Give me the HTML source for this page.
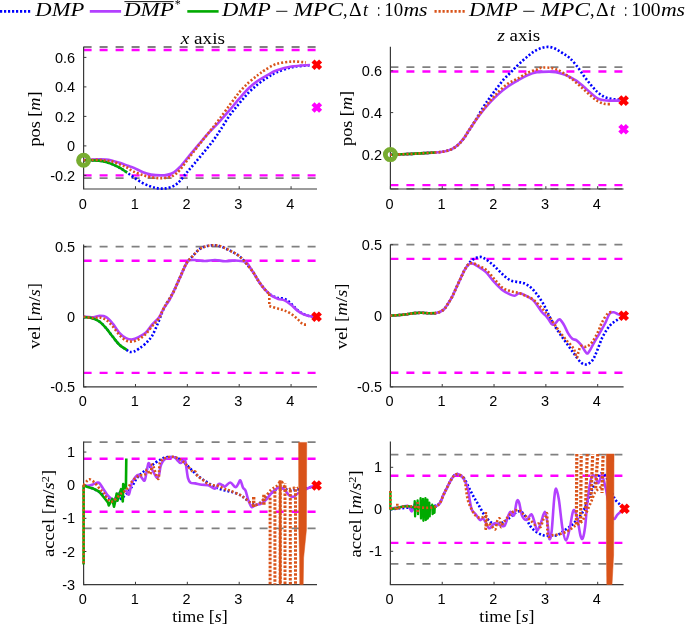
<!DOCTYPE html>
<html><head><meta charset="utf-8"><style>
html,body{margin:0;padding:0;background:#fff;width:685px;height:627px;overflow:hidden}
svg{display:block;will-change:transform}
.tk{font-family:"Liberation Sans",sans-serif;font-size:14.5px;fill:#000}
.lb{font-family:"Liberation Serif",serif;font-size:16.6px;fill:#000}
.lg{font-family:"Liberation Serif",serif;font-size:18px;fill:#000;font-style:italic}
</style></head><body>
<svg width="685" height="627" viewBox="0 0 685 627">
<rect width="685" height="627" fill="#fff"/>
<line x1="83.6" y1="47" x2="317" y2="47" stroke="#808080" stroke-width="1.8" stroke-dasharray="8 8"/>
<line x1="83.6" y1="178.2" x2="317" y2="178.2" stroke="#808080" stroke-width="1.8" stroke-dasharray="8 8"/>
<line x1="83.6" y1="50.03" x2="317" y2="50.03" stroke="#FF00FF" stroke-width="2.4" stroke-dasharray="8 8"/>
<line x1="83.6" y1="175.4" x2="317" y2="175.4" stroke="#FF00FF" stroke-width="2.4" stroke-dasharray="8 8"/>
<line x1="390.4" y1="67.14" x2="623.6" y2="67.14" stroke="#808080" stroke-width="1.8" stroke-dasharray="8 8"/>
<line x1="390.4" y1="188.88" x2="623.6" y2="188.88" stroke="#808080" stroke-width="1.8" stroke-dasharray="8 8"/>
<line x1="390.4" y1="71.43" x2="623.6" y2="71.43" stroke="#FF00FF" stroke-width="2.4" stroke-dasharray="8 8"/>
<line x1="390.4" y1="185.12" x2="623.6" y2="185.12" stroke="#FF00FF" stroke-width="2.4" stroke-dasharray="8 8"/>
<line x1="83.6" y1="246.7" x2="317" y2="246.7" stroke="#808080" stroke-width="1.8" stroke-dasharray="8 8"/>
<line x1="83.6" y1="260.72" x2="317" y2="260.72" stroke="#FF00FF" stroke-width="2.4" stroke-dasharray="8 8"/>
<line x1="83.6" y1="372.88" x2="317" y2="372.88" stroke="#FF00FF" stroke-width="2.4" stroke-dasharray="8 8"/>
<line x1="390.4" y1="244.7" x2="623.6" y2="244.7" stroke="#808080" stroke-width="1.8" stroke-dasharray="8 8"/>
<line x1="390.4" y1="258.92" x2="623.6" y2="258.92" stroke="#FF00FF" stroke-width="2.4" stroke-dasharray="8 8"/>
<line x1="390.4" y1="372.68" x2="623.6" y2="372.68" stroke="#FF00FF" stroke-width="2.4" stroke-dasharray="8 8"/>
<line x1="83.6" y1="442.11" x2="317" y2="442.11" stroke="#808080" stroke-width="1.8" stroke-dasharray="8 8"/>
<line x1="83.6" y1="528.29" x2="317" y2="528.29" stroke="#808080" stroke-width="1.8" stroke-dasharray="8 8"/>
<line x1="83.6" y1="458.68" x2="317" y2="458.68" stroke="#FF00FF" stroke-width="2.4" stroke-dasharray="8 8"/>
<line x1="83.6" y1="511.72" x2="317" y2="511.72" stroke="#FF00FF" stroke-width="2.4" stroke-dasharray="8 8"/>
<line x1="390.4" y1="454.7" x2="623.6" y2="454.7" stroke="#808080" stroke-width="1.8" stroke-dasharray="8 8"/>
<line x1="390.4" y1="563.9" x2="623.6" y2="563.9" stroke="#808080" stroke-width="1.8" stroke-dasharray="8 8"/>
<line x1="390.4" y1="475.7" x2="623.6" y2="475.7" stroke="#FF00FF" stroke-width="2.4" stroke-dasharray="8 8"/>
<line x1="390.4" y1="542.9" x2="623.6" y2="542.9" stroke="#FF00FF" stroke-width="2.4" stroke-dasharray="8 8"/>
<path d="M83.6,46.7 V189 H317" fill="none" stroke="#3a3a3a" stroke-width="1.2"/>
<line x1="83.6" y1="57.4" x2="86.4" y2="57.4" stroke="#3a3a3a" stroke-width="1"/>
<text x="75.2" y="62.5" text-anchor="end" class="tk">0.6</text>
<line x1="83.6" y1="86.9" x2="86.4" y2="86.9" stroke="#3a3a3a" stroke-width="1"/>
<text x="75.2" y="92" text-anchor="end" class="tk">0.4</text>
<line x1="83.6" y1="116.4" x2="86.4" y2="116.4" stroke="#3a3a3a" stroke-width="1"/>
<text x="75.2" y="121.5" text-anchor="end" class="tk">0.2</text>
<line x1="83.6" y1="145.9" x2="86.4" y2="145.9" stroke="#3a3a3a" stroke-width="1"/>
<text x="75.2" y="151" text-anchor="end" class="tk">0</text>
<line x1="83.6" y1="175.4" x2="86.4" y2="175.4" stroke="#3a3a3a" stroke-width="1"/>
<text x="75.2" y="180.5" text-anchor="end" class="tk">-0.2</text>
<line x1="83.6" y1="189" x2="83.6" y2="186.2" stroke="#3a3a3a" stroke-width="1"/>
<text x="82.8" y="208.5" text-anchor="middle" class="tk">0</text>
<line x1="135.47" y1="189" x2="135.47" y2="186.2" stroke="#3a3a3a" stroke-width="1"/>
<text x="134.67" y="208.5" text-anchor="middle" class="tk">1</text>
<line x1="187.33" y1="189" x2="187.33" y2="186.2" stroke="#3a3a3a" stroke-width="1"/>
<text x="186.53" y="208.5" text-anchor="middle" class="tk">2</text>
<line x1="239.2" y1="189" x2="239.2" y2="186.2" stroke="#3a3a3a" stroke-width="1"/>
<text x="238.4" y="208.5" text-anchor="middle" class="tk">3</text>
<line x1="291.07" y1="189" x2="291.07" y2="186.2" stroke="#3a3a3a" stroke-width="1"/>
<text x="290.27" y="208.5" text-anchor="middle" class="tk">4</text>
<text transform="translate(39.8,119) rotate(-90)" text-anchor="middle" class="lb" textLength="55" lengthAdjust="spacingAndGlyphs">pos [<tspan font-style="italic">m</tspan>]</text>
<path d="M390.4,46.7 V189 H623.6" fill="none" stroke="#3a3a3a" stroke-width="1.2"/>
<line x1="390.4" y1="70.8" x2="393.2" y2="70.8" stroke="#3a3a3a" stroke-width="1"/>
<text x="382" y="75.9" text-anchor="end" class="tk">0.6</text>
<line x1="390.4" y1="112.6" x2="393.2" y2="112.6" stroke="#3a3a3a" stroke-width="1"/>
<text x="382" y="117.7" text-anchor="end" class="tk">0.4</text>
<line x1="390.4" y1="154.4" x2="393.2" y2="154.4" stroke="#3a3a3a" stroke-width="1"/>
<text x="382" y="159.5" text-anchor="end" class="tk">0.2</text>
<line x1="390.4" y1="189" x2="390.4" y2="186.2" stroke="#3a3a3a" stroke-width="1"/>
<text x="389.6" y="208.5" text-anchor="middle" class="tk">0</text>
<line x1="442.22" y1="189" x2="442.22" y2="186.2" stroke="#3a3a3a" stroke-width="1"/>
<text x="441.42" y="208.5" text-anchor="middle" class="tk">1</text>
<line x1="494.04" y1="189" x2="494.04" y2="186.2" stroke="#3a3a3a" stroke-width="1"/>
<text x="493.24" y="208.5" text-anchor="middle" class="tk">2</text>
<line x1="545.87" y1="189" x2="545.87" y2="186.2" stroke="#3a3a3a" stroke-width="1"/>
<text x="545.07" y="208.5" text-anchor="middle" class="tk">3</text>
<line x1="597.69" y1="189" x2="597.69" y2="186.2" stroke="#3a3a3a" stroke-width="1"/>
<text x="596.89" y="208.5" text-anchor="middle" class="tk">4</text>
<text transform="translate(351.8,118.4) rotate(-90)" text-anchor="middle" class="lb" textLength="55" lengthAdjust="spacingAndGlyphs">pos [<tspan font-style="italic">m</tspan>]</text>
<path d="M83.6,244.6 V386.8 H317" fill="none" stroke="#3a3a3a" stroke-width="1.2"/>
<line x1="83.6" y1="246.7" x2="86.4" y2="246.7" stroke="#3a3a3a" stroke-width="1"/>
<text x="75.2" y="251.8" text-anchor="end" class="tk">0.5</text>
<line x1="83.6" y1="316.8" x2="86.4" y2="316.8" stroke="#3a3a3a" stroke-width="1"/>
<text x="75.2" y="321.9" text-anchor="end" class="tk">0</text>
<line x1="83.6" y1="386.9" x2="86.4" y2="386.9" stroke="#3a3a3a" stroke-width="1"/>
<text x="75.2" y="392" text-anchor="end" class="tk">-0.5</text>
<line x1="83.6" y1="386.8" x2="83.6" y2="384" stroke="#3a3a3a" stroke-width="1"/>
<text x="82.8" y="406.3" text-anchor="middle" class="tk">0</text>
<line x1="135.47" y1="386.8" x2="135.47" y2="384" stroke="#3a3a3a" stroke-width="1"/>
<text x="134.67" y="406.3" text-anchor="middle" class="tk">1</text>
<line x1="187.33" y1="386.8" x2="187.33" y2="384" stroke="#3a3a3a" stroke-width="1"/>
<text x="186.53" y="406.3" text-anchor="middle" class="tk">2</text>
<line x1="239.2" y1="386.8" x2="239.2" y2="384" stroke="#3a3a3a" stroke-width="1"/>
<text x="238.4" y="406.3" text-anchor="middle" class="tk">3</text>
<line x1="291.07" y1="386.8" x2="291.07" y2="384" stroke="#3a3a3a" stroke-width="1"/>
<text x="290.27" y="406.3" text-anchor="middle" class="tk">4</text>
<text transform="translate(40,316) rotate(-90)" text-anchor="middle" class="lb" textLength="66" lengthAdjust="spacingAndGlyphs">vel [<tspan font-style="italic">m</tspan>/<tspan font-style="italic">s</tspan>]</text>
<path d="M390.4,244.6 V386.8 H623.6" fill="none" stroke="#3a3a3a" stroke-width="1.2"/>
<line x1="390.4" y1="244.7" x2="393.2" y2="244.7" stroke="#3a3a3a" stroke-width="1"/>
<text x="382" y="249.8" text-anchor="end" class="tk">0.5</text>
<line x1="390.4" y1="315.8" x2="393.2" y2="315.8" stroke="#3a3a3a" stroke-width="1"/>
<text x="382" y="320.9" text-anchor="end" class="tk">0</text>
<line x1="390.4" y1="386.9" x2="393.2" y2="386.9" stroke="#3a3a3a" stroke-width="1"/>
<text x="382" y="392" text-anchor="end" class="tk">-0.5</text>
<line x1="390.4" y1="386.8" x2="390.4" y2="384" stroke="#3a3a3a" stroke-width="1"/>
<text x="389.6" y="406.3" text-anchor="middle" class="tk">0</text>
<line x1="442.22" y1="386.8" x2="442.22" y2="384" stroke="#3a3a3a" stroke-width="1"/>
<text x="441.42" y="406.3" text-anchor="middle" class="tk">1</text>
<line x1="494.04" y1="386.8" x2="494.04" y2="384" stroke="#3a3a3a" stroke-width="1"/>
<text x="493.24" y="406.3" text-anchor="middle" class="tk">2</text>
<line x1="545.87" y1="386.8" x2="545.87" y2="384" stroke="#3a3a3a" stroke-width="1"/>
<text x="545.07" y="406.3" text-anchor="middle" class="tk">3</text>
<line x1="597.69" y1="386.8" x2="597.69" y2="384" stroke="#3a3a3a" stroke-width="1"/>
<text x="596.89" y="406.3" text-anchor="middle" class="tk">4</text>
<text transform="translate(347.4,316.4) rotate(-90)" text-anchor="middle" class="lb" textLength="66" lengthAdjust="spacingAndGlyphs">vel [<tspan font-style="italic">m</tspan>/<tspan font-style="italic">s</tspan>]</text>
<path d="M83.6,441.5 V584.6 H317" fill="none" stroke="#3a3a3a" stroke-width="1.2"/>
<line x1="83.6" y1="452.05" x2="86.4" y2="452.05" stroke="#3a3a3a" stroke-width="1"/>
<text x="75.2" y="457.15" text-anchor="end" class="tk">1</text>
<line x1="83.6" y1="485.2" x2="86.4" y2="485.2" stroke="#3a3a3a" stroke-width="1"/>
<text x="75.2" y="490.3" text-anchor="end" class="tk">0</text>
<line x1="83.6" y1="518.35" x2="86.4" y2="518.35" stroke="#3a3a3a" stroke-width="1"/>
<text x="75.2" y="523.45" text-anchor="end" class="tk">-1</text>
<line x1="83.6" y1="551.5" x2="86.4" y2="551.5" stroke="#3a3a3a" stroke-width="1"/>
<text x="75.2" y="556.6" text-anchor="end" class="tk">-2</text>
<line x1="83.6" y1="584.65" x2="86.4" y2="584.65" stroke="#3a3a3a" stroke-width="1"/>
<text x="75.2" y="589.75" text-anchor="end" class="tk">-3</text>
<line x1="83.6" y1="584.6" x2="83.6" y2="581.8" stroke="#3a3a3a" stroke-width="1"/>
<text x="82.8" y="604.1" text-anchor="middle" class="tk">0</text>
<line x1="135.47" y1="584.6" x2="135.47" y2="581.8" stroke="#3a3a3a" stroke-width="1"/>
<text x="134.67" y="604.1" text-anchor="middle" class="tk">1</text>
<line x1="187.33" y1="584.6" x2="187.33" y2="581.8" stroke="#3a3a3a" stroke-width="1"/>
<text x="186.53" y="604.1" text-anchor="middle" class="tk">2</text>
<line x1="239.2" y1="584.6" x2="239.2" y2="581.8" stroke="#3a3a3a" stroke-width="1"/>
<text x="238.4" y="604.1" text-anchor="middle" class="tk">3</text>
<line x1="291.07" y1="584.6" x2="291.07" y2="581.8" stroke="#3a3a3a" stroke-width="1"/>
<text x="290.27" y="604.1" text-anchor="middle" class="tk">4</text>
<text transform="translate(54.3,513.4) rotate(-90)" text-anchor="middle" class="lb" textLength="87" lengthAdjust="spacingAndGlyphs">accel [<tspan font-style="italic">m</tspan>/<tspan font-style="italic">s</tspan><tspan dy="-5" font-size="11">2</tspan><tspan dy="5">]</tspan></text>
<path d="M390.4,441.5 V584.6 H623.6" fill="none" stroke="#3a3a3a" stroke-width="1.2"/>
<line x1="390.4" y1="467.3" x2="393.2" y2="467.3" stroke="#3a3a3a" stroke-width="1"/>
<text x="382" y="472.4" text-anchor="end" class="tk">1</text>
<line x1="390.4" y1="509.3" x2="393.2" y2="509.3" stroke="#3a3a3a" stroke-width="1"/>
<text x="382" y="514.4" text-anchor="end" class="tk">0</text>
<line x1="390.4" y1="551.3" x2="393.2" y2="551.3" stroke="#3a3a3a" stroke-width="1"/>
<text x="382" y="556.4" text-anchor="end" class="tk">-1</text>
<line x1="390.4" y1="584.6" x2="390.4" y2="581.8" stroke="#3a3a3a" stroke-width="1"/>
<text x="389.6" y="604.1" text-anchor="middle" class="tk">0</text>
<line x1="442.22" y1="584.6" x2="442.22" y2="581.8" stroke="#3a3a3a" stroke-width="1"/>
<text x="441.42" y="604.1" text-anchor="middle" class="tk">1</text>
<line x1="494.04" y1="584.6" x2="494.04" y2="581.8" stroke="#3a3a3a" stroke-width="1"/>
<text x="493.24" y="604.1" text-anchor="middle" class="tk">2</text>
<line x1="545.87" y1="584.6" x2="545.87" y2="581.8" stroke="#3a3a3a" stroke-width="1"/>
<text x="545.07" y="604.1" text-anchor="middle" class="tk">3</text>
<line x1="597.69" y1="584.6" x2="597.69" y2="581.8" stroke="#3a3a3a" stroke-width="1"/>
<text x="596.89" y="604.1" text-anchor="middle" class="tk">4</text>
<text transform="translate(361.2,513.9) rotate(-90)" text-anchor="middle" class="lb" textLength="87" lengthAdjust="spacingAndGlyphs">accel [<tspan font-style="italic">m</tspan>/<tspan font-style="italic">s</tspan><tspan dy="-5" font-size="11">2</tspan><tspan dy="5">]</tspan></text>
<path d="M83.6,160.2 C86.1,160.27 94.88,160.3 98.6,160.6 C102.32,160.9 103.47,161.33 105.9,162 C108.33,162.67 110.77,163.57 113.2,164.6 C115.63,165.63 118.18,166.87 120.5,168.2 C122.82,169.53 124.85,171.05 127.1,172.6 C129.35,174.15 131.53,175.83 134,177.5 C136.47,179.17 139.23,181.15 141.9,182.6 C144.57,184.05 147.65,185.3 150,186.2 C152.35,187.1 154.1,187.6 156,188 C157.9,188.4 159.73,188.53 161.4,188.6 C163.07,188.67 164.32,188.67 166,188.4 C167.68,188.13 169.83,187.65 171.5,187 C173.17,186.35 174.6,185.5 176,184.5 C177.4,183.5 178.12,182.97 179.9,181 C181.68,179.03 184.28,175.6 186.7,172.7 C189.12,169.8 191.53,167.02 194.4,163.6 C197.27,160.18 200.72,156.1 203.9,152.2 C207.08,148.3 210.65,144.07 213.5,140.2 C216.35,136.33 218.32,133.12 221,129 C223.68,124.88 226.57,119.75 229.6,115.5 C232.63,111.25 236.02,107.33 239.2,103.5 C242.38,99.67 245.52,95.77 248.7,92.5 C251.88,89.23 255.1,86.43 258.3,83.9 C261.5,81.37 264.9,79.2 267.9,77.3 C270.9,75.4 272.35,74.17 276.3,72.5 C280.25,70.83 286.82,68.45 291.6,67.3 C296.38,66.15 301.77,65.95 305,65.6 C308.23,65.25 310,65.27 311,65.2" fill="none" stroke="#0000FF" stroke-width="2.6" stroke-linejoin="round" stroke-dasharray="2 2"/>
<path d="M83.6,160 C84.88,159.92 87.58,159.58 91.3,159.5 C95.02,159.42 102.25,159.25 105.9,159.5 C109.55,159.75 110.77,160.4 113.2,161 C115.63,161.6 118.07,162.32 120.5,163.1 C122.93,163.88 125.55,164.9 127.8,165.7 C130.05,166.5 131.47,166.8 134,167.9 C136.53,169 140.17,171.2 143,172.3 C145.83,173.4 148.03,173.98 151,174.5 C153.97,175.02 158.13,175.35 160.8,175.4 C163.47,175.45 164.82,175.32 167,174.8 C169.18,174.28 171.73,173.6 173.9,172.3 C176.07,171 177.38,169.83 180,167 C182.62,164.17 186.4,159.15 189.6,155.3 C192.8,151.45 196.02,147.63 199.2,143.9 C202.38,140.17 205.52,136.4 208.7,132.9 C211.88,129.4 214.82,126.68 218.3,122.9 C221.78,119.12 226.12,114.23 229.6,110.2 C233.08,106.17 236.02,102.37 239.2,98.7 C242.38,95.03 245.52,91.23 248.7,88.2 C251.88,85.17 255.1,82.73 258.3,80.5 C261.5,78.27 264.9,76.47 267.9,74.8 C270.9,73.13 272.35,71.88 276.3,70.5 C280.25,69.12 285.98,67.42 291.6,66.5 C297.22,65.58 306.93,65.25 310,65" fill="none" stroke="#B340FF" stroke-width="2.6" stroke-linejoin="round"/>
<path d="M83.6,160.2 C84.83,160.22 88.5,160.23 91,160.3 C93.5,160.37 96.12,160.32 98.6,160.6 C101.08,160.88 103.47,161.33 105.9,162 C108.33,162.67 110.77,163.57 113.2,164.6 C115.63,165.63 118.18,166.87 120.5,168.2 C122.82,169.53 126,171.87 127.1,172.6" fill="none" stroke="#00AA00" stroke-width="2.6" stroke-linejoin="round"/>
<path d="M83.6,160.2 C86.1,160.15 94.88,159.85 98.6,159.9 C102.32,159.95 103.47,160.18 105.9,160.5 C108.33,160.82 110.77,161.1 113.2,161.8 C115.63,162.5 118.2,163.75 120.5,164.7 C122.8,165.65 124.93,166.42 127,167.5 C129.07,168.58 130.57,170.03 132.9,171.2 C135.23,172.37 138.15,173.53 141,174.5 C143.85,175.47 146.7,176.38 150,177 C153.3,177.62 157.47,178.2 160.8,178.2 C164.13,178.2 167.63,177.62 170,177 C172.37,176.38 173.33,175.7 175,174.5 C176.67,173.3 177.57,172.72 180,169.8 C182.43,166.88 186.4,161.2 189.6,157 C192.8,152.8 196.02,148.65 199.2,144.6 C202.38,140.55 205.52,136.72 208.7,132.7 C211.88,128.68 214.82,125.08 218.3,120.5 C221.78,115.92 226.12,109.87 229.6,105.2 C233.08,100.53 236.02,96.28 239.2,92.5 C242.38,88.72 245.52,85.45 248.7,82.5 C251.88,79.55 255.58,76.88 258.3,74.8 C261.02,72.72 262,71.8 265,70 C268,68.2 271.87,65.4 276.3,64 C280.73,62.6 286.65,61.87 291.6,61.6 C296.55,61.33 303.6,62.27 306,62.4" fill="none" stroke="#D95319" stroke-width="2.6" stroke-linejoin="round" stroke-dasharray="2 2"/>
<path d="M390.4,154.8 C393.88,154.65 405.63,154.18 411.3,153.9 C416.97,153.62 420.47,153.33 424.4,153.1 C428.33,152.87 431.62,152.77 434.9,152.5 C438.18,152.23 441.47,151.98 444.1,151.5 C446.73,151.02 448.5,150.58 450.7,149.6 C452.9,148.62 455.12,147.47 457.3,145.6 C459.48,143.73 461.32,141.75 463.8,138.4 C466.28,135.05 470.22,128.6 472.2,125.5 C474.18,122.4 473.67,123.15 475.7,119.8 C477.73,116.45 482.17,108.92 484.4,105.4 C486.63,101.88 487.52,100.93 489.1,98.7 C490.68,96.47 492.3,94.15 493.9,92 C495.5,89.85 497.1,87.87 498.7,85.8 C500.3,83.73 501.9,81.43 503.5,79.6 C505.1,77.77 506.87,76.23 508.3,74.8 C509.73,73.37 510.93,72.2 512.1,71 C513.27,69.8 513.57,69.3 515.3,67.6 C517.03,65.9 520.22,62.85 522.5,60.8 C524.78,58.75 526.92,56.93 529,55.3 C531.08,53.67 532.85,52.23 535,51 C537.15,49.77 539.58,48.58 541.9,47.9 C544.22,47.22 546.58,46.72 548.9,46.9 C551.22,47.08 553.5,47.95 555.8,49 C558.1,50.05 560.38,51.7 562.7,53.2 C565.02,54.7 567.38,55.92 569.7,58 C572.02,60.08 574.3,62.8 576.6,65.7 C578.9,68.6 581.18,72.28 583.5,75.4 C585.82,78.52 588.18,81.63 590.5,84.4 C592.82,87.17 595.1,89.92 597.4,92 C599.7,94.08 601.98,95.75 604.3,96.9 C606.62,98.05 608.98,98.45 611.3,98.9 C613.62,99.35 616.15,99.42 618.2,99.6 C620.25,99.78 622.7,99.93 623.6,100" fill="none" stroke="#0000FF" stroke-width="2.6" stroke-linejoin="round" stroke-dasharray="2 2"/>
<path d="M390.4,154.8 C393.88,154.65 405.63,154.18 411.3,153.9 C416.97,153.62 420.47,153.33 424.4,153.1 C428.33,152.87 431.62,152.77 434.9,152.5 C438.18,152.23 441.47,151.98 444.1,151.5 C446.73,151.02 448.5,150.58 450.7,149.6 C452.9,148.62 455.12,147.47 457.3,145.6 C459.48,143.73 461.8,141.03 463.8,138.4 C465.8,135.77 466.67,133.7 469.3,129.8 C471.93,125.9 476.3,119.38 479.6,115 C482.9,110.62 485.92,107.02 489.1,103.5 C492.28,99.98 495.5,96.77 498.7,93.9 C501.9,91.03 505.12,88.53 508.3,86.3 C511.48,84.07 514.62,82.33 517.8,80.5 C520.98,78.67 524.23,76.67 527.4,75.3 C530.57,73.93 533.22,72.92 536.8,72.3 C540.38,71.68 545.73,71.62 548.9,71.6 C552.07,71.58 553.5,71.8 555.8,72.2 C558.1,72.6 560.38,73.23 562.7,74 C565.02,74.77 567.38,75.65 569.7,76.8 C572.02,77.95 574.3,79.28 576.6,80.9 C578.9,82.52 581.18,84.53 583.5,86.5 C585.82,88.47 588.18,90.73 590.5,92.7 C592.82,94.67 595.1,97.03 597.4,98.3 C599.7,99.57 601.98,99.92 604.3,100.3 C606.62,100.68 608.68,100.55 611.3,100.6 C613.92,100.65 618.55,100.6 620,100.6" fill="none" stroke="#B340FF" stroke-width="2.6" stroke-linejoin="round"/>
<path d="M390.4,154.8 C393.88,154.65 405.63,154.18 411.3,153.9 C416.97,153.62 420.47,153.33 424.4,153.1 C428.33,152.87 433.15,152.6 434.9,152.5" fill="none" stroke="#00AA00" stroke-width="2.6" stroke-linejoin="round"/>
<path d="M390.4,154.8 C393.88,154.65 405.63,154.18 411.3,153.9 C416.97,153.62 420.47,153.33 424.4,153.1 C428.33,152.87 431.62,152.77 434.9,152.5 C438.18,152.23 441.47,151.98 444.1,151.5 C446.73,151.02 448.5,150.58 450.7,149.6 C452.9,148.62 455.12,147.47 457.3,145.6 C459.48,143.73 461.8,141.03 463.8,138.4 C465.8,135.77 466.67,133.78 469.3,129.8 C471.93,125.82 476.3,119.1 479.6,114.5 C482.9,109.9 485.92,106.03 489.1,102.2 C492.28,98.37 495.5,94.63 498.7,91.5 C501.9,88.37 505.12,85.55 508.3,83.4 C511.48,81.25 514.62,80.35 517.8,78.6 C520.98,76.85 524.23,74.42 527.4,72.9 C530.57,71.38 534.38,70.37 536.8,69.5 C539.22,68.63 539.88,68 541.9,67.7 C543.92,67.4 546.58,67.47 548.9,67.7 C551.22,67.93 553.5,68.28 555.8,69.1 C558.1,69.92 560.38,71.22 562.7,72.6 C565.02,73.98 567.38,75.67 569.7,77.4 C572.02,79.13 574.3,81.03 576.6,83 C578.9,84.97 581.18,87.12 583.5,89.2 C585.82,91.28 588.18,93.53 590.5,95.5 C592.82,97.47 595.1,99.62 597.4,101 C599.7,102.38 601.98,103.28 604.3,103.8 C606.62,104.32 610.13,104.05 611.3,104.1" fill="none" stroke="#D95319" stroke-width="2.6" stroke-linejoin="round" stroke-dasharray="2 2"/>
<path d="M83.6,317.1 C85.18,317.32 90.42,317.63 93.1,318.4 C95.78,319.17 97.5,320.05 99.7,321.7 C101.9,323.35 104.12,325.78 106.3,328.3 C108.48,330.82 110.62,334.07 112.8,336.8 C114.98,339.53 117.1,342.52 119.4,344.7 C121.7,346.88 124.85,348.7 126.6,349.9 C128.35,351.1 128.67,351.63 129.9,351.9 C131.13,352.17 132.47,352.05 134,351.5 C135.53,350.95 137.15,349.95 139.1,348.6 C141.05,347.25 143.5,345.58 145.7,343.4 C147.9,341.22 150.12,339.23 152.3,335.5 C154.48,331.77 156.83,325.6 158.8,321 C160.77,316.4 161.72,312.63 164.1,307.9 C166.48,303.17 170.5,297.57 173.1,292.6 C175.7,287.63 177.5,282.92 179.7,278.1 C181.9,273.28 184.1,267.42 186.3,263.7 C188.5,259.98 190.72,258.22 192.9,255.8 C195.08,253.38 197.22,250.78 199.4,249.2 C201.58,247.62 203.8,246.95 206,246.3 C208.2,245.65 210.42,245.37 212.6,245.3 C214.78,245.23 216.92,245.37 219.1,245.9 C221.28,246.43 223.5,247.52 225.7,248.5 C227.9,249.48 230.12,250.58 232.3,251.8 C234.48,253.02 236.83,254.27 238.8,255.8 C240.77,257.33 241.77,258.35 244.1,261 C246.43,263.65 250.3,268.22 252.8,271.7 C255.3,275.18 256.98,278.82 259.1,281.9 C261.22,284.98 263.37,287.92 265.5,290.2 C267.63,292.48 269.77,294.3 271.9,295.6 C274.03,296.9 276.18,297.47 278.3,298 C280.42,298.53 282.48,297.88 284.6,298.8 C286.72,299.72 288.87,301.63 291,303.5 C293.13,305.37 295.27,308.22 297.4,310 C299.53,311.78 301.67,313.17 303.8,314.2 C305.93,315.23 308.07,315.8 310.2,316.2 C312.33,316.6 315.53,316.53 316.6,316.6" fill="none" stroke="#0000FF" stroke-width="2.6" stroke-linejoin="round" stroke-dasharray="2 2"/>
<path d="M83.6,316.8 C85.18,316.87 90.42,317.37 93.1,317.2 C95.78,317.03 97.5,315.82 99.7,315.8 C101.9,315.78 104.12,315.78 106.3,317.1 C108.48,318.42 110.62,321.08 112.8,323.7 C114.98,326.32 117.2,330.4 119.4,332.8 C121.6,335.2 123.8,337 126,338.1 C128.2,339.2 130.42,339.62 132.6,339.4 C134.78,339.18 136.92,337.9 139.1,336.8 C141.28,335.7 143.5,334.88 145.7,332.8 C147.9,330.72 150.12,326.82 152.3,324.3 C154.48,321.78 156.83,320.43 158.8,317.7 C160.77,314.97 162.33,310.85 164.1,307.9 C165.87,304.95 167.9,302.55 169.4,300 C170.9,297.45 171.38,296.25 173.1,292.6 C174.82,288.95 177.5,282.92 179.7,278.1 C181.9,273.28 184.75,266.65 186.3,263.7 C187.85,260.75 187.55,261.02 189,260.4 C190.45,259.78 192.33,259.9 195,260 C197.67,260.1 201.67,261 205,261 C208.33,261 211.67,259.97 215,260 C218.33,260.03 221.67,261.12 225,261.2 C228.33,261.28 231.83,260.45 235,260.5 C238.17,260.55 242.1,261.23 244,261.5 C245.9,261.77 244.93,260.4 246.4,262.1 C247.87,263.8 250.68,268.4 252.8,271.7 C254.92,275 256.98,278.82 259.1,281.9 C261.22,284.98 263.37,287.87 265.5,290.2 C267.63,292.53 269.77,294.45 271.9,295.9 C274.03,297.35 276.18,298.15 278.3,298.9 C280.42,299.65 282.48,299.42 284.6,300.4 C286.72,301.38 288.87,303.1 291,304.8 C293.13,306.5 295.27,309 297.4,310.6 C299.53,312.2 301.67,313.45 303.8,314.4 C305.93,315.35 308.07,315.93 310.2,316.3 C312.33,316.67 315.53,316.55 316.6,316.6" fill="none" stroke="#B340FF" stroke-width="2.6" stroke-linejoin="round"/>
<path d="M83.6,317.1 C85.18,317.32 90.42,317.63 93.1,318.4 C95.78,319.17 97.5,320.05 99.7,321.7 C101.9,323.35 104.12,325.78 106.3,328.3 C108.48,330.82 110.62,334.07 112.8,336.8 C114.98,339.53 117.1,342.52 119.4,344.7 C121.7,346.88 125.4,349.03 126.6,349.9" fill="none" stroke="#00AA00" stroke-width="2.6" stroke-linejoin="round"/>
<path d="M83.6,316.8 C85.18,317 90.42,317.88 93.1,318 C95.78,318.12 97.5,317.17 99.7,317.5 C101.9,317.83 104.12,318.5 106.3,320 C108.48,321.5 110.62,324 112.8,326.5 C114.98,329 117.2,332.67 119.4,335 C121.6,337.33 123.8,339.42 126,340.5 C128.2,341.58 130.42,341.75 132.6,341.5 C134.78,341.25 136.92,340.25 139.1,339 C141.28,337.75 143.5,336.17 145.7,334 C147.9,331.83 150.12,328.6 152.3,326 C154.48,323.4 156.83,321.48 158.8,318.4 C160.77,315.32 161.72,311.8 164.1,307.5 C166.48,303.2 170.5,297.5 173.1,292.6 C175.7,287.7 177.5,282.92 179.7,278.1 C181.9,273.28 184.1,267.42 186.3,263.7 C188.5,259.98 190.72,258.22 192.9,255.8 C195.08,253.38 197.22,250.78 199.4,249.2 C201.58,247.62 203.8,246.95 206,246.3 C208.2,245.65 210.42,245.37 212.6,245.3 C214.78,245.23 216.92,245.37 219.1,245.9 C221.28,246.43 223.5,247.52 225.7,248.5 C227.9,249.48 230.12,250.58 232.3,251.8 C234.48,253.02 236.83,254.27 238.8,255.8 C240.77,257.33 241.77,258.35 244.1,261 C246.43,263.65 250.3,268.22 252.8,271.7 C255.3,275.18 256.98,278.82 259.1,281.9 C261.22,284.98 263.8,288.18 265.5,290.2 C267.2,292.22 268.67,293.37 269.3,294" fill="none" stroke="#D95319" stroke-width="2.6" stroke-linejoin="round" stroke-dasharray="2 2"/>
<path d="M269.3,294 L269.3,306.1" fill="none" stroke="#D95319" stroke-width="2.6" stroke-linejoin="round" stroke-dasharray="2 2"/>
<path d="M269.3,306.1 C270.8,306.53 275.75,307.95 278.3,308.7 C280.85,309.45 282.48,309.75 284.6,310.6 C286.72,311.45 288.87,312.42 291,313.8 C293.13,315.18 295.48,317.2 297.4,318.9 C299.32,320.6 301.02,323.05 302.5,324 C303.98,324.95 305.67,324.5 306.3,324.6" fill="none" stroke="#D95319" stroke-width="2.6" stroke-linejoin="round" stroke-dasharray="2 2"/>
<path d="M390.4,315.7 C391.93,315.58 396.85,315.25 399.6,315 C402.35,314.75 404.47,314.52 406.9,314.2 C409.33,313.88 411.77,313.33 414.2,313.1 C416.63,312.87 419.07,312.78 421.5,312.8 C423.93,312.82 426.37,313.15 428.8,313.2 C431.23,313.25 433.67,313.65 436.1,313.1 C438.53,312.55 441.45,311.42 443.4,309.9 C445.35,308.38 446.33,306.2 447.8,304 C449.27,301.8 450.75,299.5 452.2,296.7 C453.65,293.9 455.05,290.37 456.5,287.2 C457.95,284.03 459.57,280.53 460.9,277.7 C462.23,274.87 463.35,272.32 464.5,270.2 C465.65,268.08 466.62,266.62 467.8,265 C468.98,263.38 470.17,261.7 471.6,260.5 C473.03,259.3 474.8,258.38 476.4,257.8 C478,257.22 479.6,256.73 481.2,257 C482.8,257.27 483.88,257.95 486,259.4 C488.12,260.85 491.25,263.32 493.9,265.7 C496.55,268.08 499.23,271.3 501.9,273.7 C504.57,276.1 507.23,278.72 509.9,280.1 C512.57,281.48 515.52,281.47 517.9,282 C520.28,282.53 522.08,282.42 524.2,283.3 C526.32,284.18 528.47,285.45 530.6,287.3 C532.73,289.15 534.87,291.62 537,294.4 C539.13,297.18 541.55,300.8 543.4,304 C545.25,307.2 546.5,310.4 548.1,313.6 C549.7,316.8 551.12,319.95 553,323.2 C554.88,326.45 557.15,329.78 559.4,333.1 C561.65,336.42 564.12,339.75 566.5,343.1 C568.88,346.45 571.3,349.97 573.7,353.2 C576.1,356.43 578.75,360.63 580.9,362.5 C583.05,364.37 584.68,364.75 586.6,364.4 C588.52,364.05 590.72,362.52 592.4,360.4 C594.08,358.28 595.03,355.53 596.7,351.7 C598.37,347.87 600.25,341.7 602.4,337.4 C604.55,333.1 607.2,328.77 609.6,325.9 C612,323.03 614.47,321.77 616.8,320.2 C619.13,318.63 622.47,317.12 623.6,316.5" fill="none" stroke="#0000FF" stroke-width="2.6" stroke-linejoin="round" stroke-dasharray="2 2"/>
<path d="M390.4,315.7 C391.93,315.58 396.85,315.25 399.6,315 C402.35,314.75 404.47,314.52 406.9,314.2 C409.33,313.88 411.77,313.33 414.2,313.1 C416.63,312.87 419.07,312.78 421.5,312.8 C423.93,312.82 426.37,313.15 428.8,313.2 C431.23,313.25 433.67,313.65 436.1,313.1 C438.53,312.55 441.45,311.42 443.4,309.9 C445.35,308.38 446.33,306.2 447.8,304 C449.27,301.8 450.75,299.5 452.2,296.7 C453.65,293.9 455.05,290.37 456.5,287.2 C457.95,284.03 459.57,280.53 460.9,277.7 C462.23,274.87 463.4,272.22 464.5,270.2 C465.6,268.18 466.52,266.7 467.5,265.6 C468.48,264.5 469.4,263.9 470.4,263.6 C471.4,263.3 472.23,263.32 473.5,263.8 C474.77,264.28 475.92,265.12 478,266.5 C480.08,267.88 483.35,269.57 486,272.1 C488.65,274.63 491.25,278.77 493.9,281.7 C496.55,284.63 499.23,287.58 501.9,289.7 C504.57,291.82 507.77,293.4 509.9,294.4 C512.03,295.4 513.12,295.9 514.7,295.7 C516.28,295.5 517.55,293.2 519.4,293.2 C521.25,293.2 523.4,294.43 525.8,295.7 C528.2,296.97 531.13,298.08 533.8,300.8 C536.47,303.52 539.77,309.47 541.8,312 C543.83,314.53 544.8,314.67 546,316 C547.2,317.33 547.97,318.58 549,320 C550.03,321.42 551.2,323.88 552.2,324.5 C553.2,325.12 553.8,324.55 555,323.7 C556.2,322.85 557.95,319.27 559.4,319.4 C560.85,319.53 562.27,322.22 563.7,324.5 C565.13,326.78 566.57,330.72 568,333.1 C569.43,335.48 570.87,337.6 572.3,338.8 C573.73,340 575.17,339.33 576.6,340.3 C578.03,341.27 579.23,342.45 580.9,344.6 C582.57,346.75 585.17,352.13 586.6,353.2 C588.03,354.27 588.3,352.68 589.5,351 C590.7,349.32 592.12,346.08 593.8,343.1 C595.48,340.12 597.68,336.45 599.6,333.1 C601.52,329.75 603.63,326.23 605.3,323 C606.97,319.77 608.17,315.48 609.6,313.7 C611.03,311.92 612.47,312.18 613.9,312.3 C615.33,312.42 616.77,313.82 618.2,314.4 C619.63,314.98 621.78,315.57 622.5,315.8" fill="none" stroke="#B340FF" stroke-width="2.6" stroke-linejoin="round"/>
<path d="M390.4,315.7 C391.93,315.58 396.85,315.25 399.6,315 C402.35,314.75 404.47,314.52 406.9,314.2 C409.33,313.88 411.77,313.33 414.2,313.1 C416.63,312.87 419.07,312.78 421.5,312.8 C423.93,312.82 426.37,313.15 428.8,313.2 C431.23,313.25 434.88,313.12 436.1,313.1" fill="none" stroke="#00AA00" stroke-width="2.6" stroke-linejoin="round"/>
<path d="M390.4,315.7 C391.93,315.58 396.85,315.25 399.6,315 C402.35,314.75 404.47,314.52 406.9,314.2 C409.33,313.88 411.77,313.33 414.2,313.1 C416.63,312.87 419.07,312.78 421.5,312.8 C423.93,312.82 426.37,313.15 428.8,313.2 C431.23,313.25 433.67,313.65 436.1,313.1 C438.53,312.55 441.45,311.42 443.4,309.9 C445.35,308.38 446.33,306.2 447.8,304 C449.27,301.8 450.75,299.5 452.2,296.7 C453.65,293.9 455.05,290.37 456.5,287.2 C457.95,284.03 459.57,280.53 460.9,277.7 C462.23,274.87 463.4,272.25 464.5,270.2 C465.6,268.15 466.52,266.55 467.5,265.4 C468.48,264.25 469.4,263.65 470.4,263.3 C471.4,262.95 472.23,262.93 473.5,263.3 C474.77,263.67 475.92,264.43 478,265.5 C480.08,266.57 483.35,267.53 486,269.7 C488.65,271.87 491.25,275.57 493.9,278.5 C496.55,281.43 499.23,285.22 501.9,287.3 C504.57,289.38 507.23,290.08 509.9,291 C512.57,291.92 515.25,292 517.9,292.8 C520.55,293.6 523.15,294.6 525.8,295.8 C528.45,297 531.13,297.97 533.8,300 C536.47,302.03 539.42,305.47 541.8,308 C544.18,310.53 546.12,312.67 548.1,315.2 C550.08,317.73 551.82,320.47 553.7,323.2 C555.58,325.93 557.27,328.75 559.4,331.6 C561.53,334.45 564.12,337.42 566.5,340.3 C568.88,343.18 572.02,346.03 573.7,348.9 C575.38,351.77 575.8,356.98 576.6,357.5 C577.4,358.02 577.78,353.92 578.5,352 C579.22,350.08 579.55,346.88 580.9,346 C582.25,345.12 584.68,347.42 586.6,346.7 C588.52,345.98 590.48,344.22 592.4,341.7 C594.32,339.18 596.43,334.95 598.1,331.6 C599.77,328.25 600.72,324.7 602.4,321.6 C604.08,318.5 606.52,314.55 608.2,313 C609.88,311.45 611.78,312.42 612.5,312.3" fill="none" stroke="#D95319" stroke-width="2.6" stroke-linejoin="round" stroke-dasharray="2 2"/>
<path d="M83.6,485.2 C85,485.67 89.27,486.78 92,488 C94.73,489.22 97.5,490.92 100,492.5 C102.5,494.08 104.67,496.2 107,497.5 C109.33,498.8 111.83,500.05 114,500.3 C116.17,500.55 118,499.97 120,499 C122,498.03 124,496.58 126,494.5 C128,492.42 130.17,489.25 132,486.5 C133.83,483.75 135.22,480.37 137,478 C138.78,475.63 140.87,473.88 142.7,472.3 C144.53,470.72 145.88,470.1 148,468.5 C150.12,466.9 153.1,464.3 155.4,462.7 C157.7,461.1 159.98,459.8 161.8,458.9 C163.62,458 164.47,457.6 166.3,457.3 C168.13,457 170.62,456.8 172.8,457.1 C174.98,457.4 177.2,457.9 179.4,459.1 C181.6,460.3 183.8,462.33 186,464.3 C188.2,466.27 190.42,468.82 192.6,470.9 C194.78,472.98 196.92,475.05 199.1,476.8 C201.28,478.55 203.5,479.98 205.7,481.4 C207.9,482.82 210.12,484.1 212.3,485.3 C214.48,486.5 216.62,487.72 218.8,488.6 C220.98,489.48 223.2,490.03 225.4,490.6 C227.6,491.17 229.5,491.23 232,492 C234.5,492.77 238.15,494.07 240.4,495.2 C242.65,496.33 243.8,497.52 245.5,498.8 C247.2,500.08 249.18,501.95 250.6,502.9 C252.02,503.85 252.77,504.23 254,504.5 C255.23,504.77 256.33,505.33 258,504.5 C259.67,503.67 261.73,501.42 264,499.5 C266.27,497.58 269.22,494.92 271.6,493 C273.98,491.08 276.23,488.75 278.3,488 C280.37,487.25 282.05,488.08 284,488.5 C285.95,488.92 287.67,490.33 290,490.5 C292.33,490.67 295,489.95 298,489.5 C301,489.05 304.9,488.5 308,487.8 C311.1,487.1 315.17,485.72 316.6,485.3" fill="none" stroke="#0000FF" stroke-width="2.6" stroke-linejoin="round" stroke-dasharray="2 2"/>
<path d="M83.6,485.2 C84.28,485.3 86.17,485.92 87.7,485.8 C89.23,485.68 91.1,485.03 92.8,484.5 C94.5,483.97 96.7,482.7 97.9,482.6 C99.1,482.5 99.07,482.8 100,483.9 C100.93,485 102.33,487.43 103.5,489.2 C104.67,490.97 105.83,493.03 107,494.5 C108.17,495.97 109.33,497.13 110.5,498 C111.67,498.87 112.68,500.43 114,499.7 C115.32,498.97 117.07,494.88 118.4,493.6 C119.73,492.32 120.68,492.43 122,492 C123.32,491.57 125.15,490.58 126.3,491 C127.45,491.42 127.98,495.82 128.9,494.5 C129.82,493.18 130.68,486.05 131.8,483.1 C132.92,480.15 134.43,478.18 135.6,476.8 C136.77,475.42 137.83,474.7 138.8,474.8 C139.77,474.9 140.43,476.43 141.4,477.4 C142.37,478.37 143.75,481.45 144.6,480.6 C145.45,479.75 145.87,475.17 146.5,472.3 C147.13,469.43 147.77,464.47 148.4,463.4 C149.03,462.33 149.57,464.63 150.3,465.9 C151.03,467.17 151.95,469.4 152.8,471 C153.65,472.6 154.65,474.33 155.4,475.5 C156.15,476.67 156.67,478.22 157.3,478 C157.93,477.78 158.67,476.1 159.2,474.2 C159.73,472.3 159.97,468.62 160.5,466.6 C161.03,464.58 161.67,463.33 162.4,462.1 C163.13,460.87 163.82,459.93 164.9,459.2 C165.98,458.47 167.35,458.05 168.9,457.7 C170.45,457.35 172.67,456.55 174.2,457.1 C175.73,457.65 177.02,460.02 178.1,461 C179.18,461.98 179.6,463.22 180.7,463 C181.8,462.78 183.82,459.37 184.7,459.7 C185.58,460.03 185.45,461.93 186,465 C186.55,468.07 187.23,475.15 188,478.1 C188.77,481.05 189.4,481.82 190.6,482.7 C191.8,483.58 193.33,483.07 195.2,483.4 C197.07,483.73 199.62,484.38 201.8,484.7 C203.98,485.02 206.12,484.65 208.3,485.3 C210.48,485.95 213.15,488.82 214.9,488.6 C216.65,488.38 217.48,484.55 218.8,484 C220.12,483.45 221.75,484.87 222.8,485.3 C223.85,485.73 223.87,487.07 225.1,486.6 C226.33,486.13 228.5,482.42 230.2,482.5 C231.9,482.58 234.02,486.77 235.3,487.1 C236.58,487.43 237.05,485.62 237.9,484.5 C238.75,483.38 239.55,479.88 240.4,480.4 C241.25,480.92 242.15,485.9 243,487.6 C243.85,489.3 244.57,488.38 245.5,490.6 C246.43,492.82 247.57,498.17 248.6,500.9 C249.63,503.63 250.5,506.33 251.7,507 C252.9,507.67 254.27,505.42 255.8,504.9 C257.33,504.38 259.2,504.75 260.9,503.9 C262.6,503.05 264.22,501.62 266,499.8 C267.78,497.98 269.55,495.02 271.6,493 C273.65,490.98 276.23,488.33 278.3,487.7 C280.37,487.07 282.25,488 284,489.2 C285.75,490.4 287.2,493.63 288.8,494.9 C290.4,496.17 292,497.12 293.6,496.8 C295.2,496.48 296,494.43 298.4,493 C300.8,491.57 304.97,489.48 308,488.2 C311.03,486.92 315.17,485.78 316.6,485.3" fill="none" stroke="#B340FF" stroke-width="2.6" stroke-linejoin="round"/>
<path d="M83.6,485.2 L83.6,564.4" fill="none" stroke="#00AA00" stroke-width="2.6" stroke-linejoin="round"/>
<path d="M83.6,485.2 L87.7,487.1 L92.8,488.4 L99,491.5 L104.4,498 L107.9,502.4 L108.8,505.4 L110.5,502.4 L112.3,498.9 L114,506.8 L115.4,500.6 L116.7,493.6 L117.5,500.6 L119.3,494.5 L121.1,489.2 L121.9,496.2 L122.8,501.5 L123.2,484 L124.6,488.3 L125.9,488.3 L126.3,458.5" fill="none" stroke="#00AA00" stroke-width="2.6" stroke-linejoin="round"/>
<path d="M83.6,485.2 L83.6,564.4" fill="none" stroke="#D95319" stroke-width="2.6" stroke-linejoin="round" stroke-dasharray="2 2"/>
<path d="M83.6,485.2 C84.17,484.5 85.9,481.97 87,481 C88.1,480.03 88.82,479.02 90.2,479.4 C91.58,479.78 93.67,481.67 95.3,483.3 C96.93,484.93 98.63,487.63 100,489.2 C101.37,490.77 102.33,491.23 103.5,492.7 C104.67,494.17 105.83,496.53 107,498 C108.17,499.47 109.33,501.07 110.5,501.5 C111.67,501.93 112.83,501.33 114,500.6 C115.17,499.87 116.32,498.27 117.5,497.1 C118.68,495.93 119.92,494.62 121.1,493.6 C122.28,492.58 123.43,492.02 124.6,491 C125.77,489.98 126.9,489.03 128.1,487.5 C129.3,485.97 130.55,483.38 131.8,481.8 C133.05,480.22 134.32,479.05 135.6,478 C136.88,476.95 138,476.03 139.5,475.5 C141,474.97 143.33,475.77 144.6,474.8 C145.87,473.83 146.15,469.8 147.1,469.7 C148.05,469.6 149.45,475.05 150.3,474.2 C151.15,473.35 151.55,465.55 152.2,464.6 C152.85,463.65 153.55,466.8 154.2,468.5 C154.85,470.2 155.37,473.1 156.1,474.8 C156.83,476.5 158.08,479.65 158.6,478.7 C159.12,477.75 158.98,471.77 159.2,469.1 C159.42,466.43 159.37,464.28 159.9,462.7 C160.43,461.12 161.12,460.53 162.4,459.6 C163.68,458.67 165.87,457.57 167.6,457.1 C169.33,456.63 170.83,456.47 172.8,456.8 C174.77,457.13 177.2,457.85 179.4,459.1 C181.6,460.35 183.8,462.23 186,464.3 C188.2,466.37 191.07,470.3 192.6,471.5 C194.13,472.7 194.33,470.73 195.2,471.5 C196.07,472.27 196.48,474.67 197.8,476.1 C199.12,477.53 201.35,478.78 203.1,480.1 C204.85,481.42 206.55,483.13 208.3,484 C210.05,484.87 211.85,484.97 213.6,485.3 C215.35,485.63 216.83,485.33 218.8,486 C220.77,486.67 223.5,488.53 225.4,489.3 C227.3,490.07 227.7,489.62 230.2,490.6 C232.7,491.58 237.85,493.83 240.4,495.2 C242.95,496.57 243.8,497.52 245.5,498.8 C247.2,500.08 249.23,501.87 250.6,502.9 C251.97,503.93 252.33,504.83 253.7,505 C255.07,505.17 257.1,504.9 258.8,503.9 C260.5,502.9 261.85,501.38 263.9,499 C265.95,496.62 269.05,491.67 271.1,489.6 C273.15,487.53 274.5,487.95 276.2,486.6 C277.9,485.25 279.6,481 281.3,481.5 C283,482 284.62,488.52 286.4,489.6 C288.18,490.68 290.07,488.27 292,488 C293.93,487.73 297,488 298,488" fill="none" stroke="#D95319" stroke-width="2.6" stroke-linejoin="round" stroke-dasharray="2 2"/>
<path d="M253.7,497 L253.7,507" fill="none" stroke="#D95319" stroke-width="3.4" stroke-linejoin="round" stroke-dasharray="2.5 1.2"/>
<path d="M263.9,494.8 L263.9,505.5" fill="none" stroke="#D95319" stroke-width="3.4" stroke-linejoin="round" stroke-dasharray="2.5 1.2"/>
<path d="M270.1,497.8 L270.1,584.5" fill="none" stroke="#D95319" stroke-width="3.0" stroke-linejoin="round" stroke-dasharray="2.5 1.5" stroke-dashoffset="0"/>
<path d="M274.9,489.2 L274.9,584.5" fill="none" stroke="#D95319" stroke-width="3.0" stroke-linejoin="round" stroke-dasharray="2.5 1.5" stroke-dashoffset="2"/>
<path d="M280.2,480.5 L280.2,584.5" fill="none" stroke="#D95319" stroke-width="3.0" stroke-linejoin="round" stroke-dasharray="2.5 1.5" stroke-dashoffset="0"/>
<path d="M285,483.4 L285,584.5" fill="none" stroke="#D95319" stroke-width="3.0" stroke-linejoin="round" stroke-dasharray="2.5 1.5" stroke-dashoffset="2"/>
<path d="M290.3,490.1 L290.3,584.5" fill="none" stroke="#D95319" stroke-width="3.0" stroke-linejoin="round" stroke-dasharray="2.5 1.5" stroke-dashoffset="0"/>
<path d="M295.5,487.2 L295.5,584.5" fill="none" stroke="#D95319" stroke-width="3.0" stroke-linejoin="round" stroke-dasharray="2.5 1.5" stroke-dashoffset="2"/>
<path d="M280.2,480.5 L280.2,584.5" fill="none" stroke="#D95319" stroke-width="2.6" stroke-linejoin="round"/>
<path d="M298.6,442.4 L306.7,442.4 L306.4,530 L303.6,558 L303.2,584.5 L299.8,584.5 L299.6,558 L298.8,530 Z" fill="#D95319" stroke="#D95319" stroke-width="0.5" stroke-linejoin="round"/>
<path d="M390.4,509.3 C392,509.13 396.73,508.6 400,508.3 C403.27,508 406.67,507.72 410,507.5 C413.33,507.28 416.67,507.17 420,507 C423.33,506.83 427.33,506.75 430,506.5 C432.67,506.25 434.33,506.17 436,505.5 C437.67,504.83 438.77,504.25 440,502.5 C441.23,500.75 442.25,497.42 443.4,495 C444.55,492.58 445.73,490.33 446.9,488 C448.07,485.67 449.23,483.03 450.4,481 C451.57,478.97 452.73,476.97 453.9,475.8 C455.07,474.63 456.23,474 457.4,474 C458.57,474 459.7,474.95 460.9,475.8 C462.1,476.65 463.18,476.95 464.6,479.1 C466.02,481.25 467.82,485.63 469.4,488.7 C470.98,491.77 472.52,494.7 474.1,497.5 C475.68,500.3 477.13,502.52 478.9,505.5 C480.67,508.48 482.77,512.65 484.7,515.4 C486.63,518.15 488.62,520.57 490.5,522 C492.38,523.43 493.92,523.92 496,524 C498.08,524.08 500.67,523.58 503,522.5 C505.33,521.42 507.83,519.17 510,517.5 C512.17,515.83 514.33,513.5 516,512.5 C517.67,511.5 518.6,511.08 520,511.5 C521.4,511.92 522.7,512.6 524.4,515 C526.1,517.4 528.25,523.12 530.2,525.9 C532.15,528.68 533.95,530.15 536.1,531.7 C538.25,533.25 540.77,534.53 543.1,535.2 C545.43,535.87 547.77,535.7 550.1,535.7 C552.43,535.7 554.83,536 557.1,535.2 C559.37,534.4 561,532.82 563.7,530.9 C566.4,528.98 570.12,526.88 573.3,523.7 C576.48,520.52 580.02,516.58 582.8,511.8 C585.58,507.02 588,499.78 590,495 C592,490.22 593,486.68 594.8,483.1 C596.6,479.52 598.8,474.3 600.8,473.5 C602.8,472.7 604.6,474.32 606.8,478.3 C609,482.28 611.8,493.02 614,497.4 C616.2,501.78 618.25,502.67 620,504.6 C621.75,506.53 623.75,508.27 624.5,509" fill="none" stroke="#0000FF" stroke-width="2.6" stroke-linejoin="round" stroke-dasharray="2 2"/>
<path d="M390.4,508.5 C391.45,508.4 394.68,508.2 396.7,507.9 C398.72,507.6 400.55,507 402.5,506.7 C404.45,506.4 406.83,505.32 408.4,506.1 C409.97,506.88 410.73,511.88 411.9,511.4 C413.07,510.92 414.05,503.85 415.4,503.2 C416.75,502.55 417.9,506.73 420,507.5 C422.1,508.27 425.47,507.93 428,507.8 C430.53,507.67 433.22,507.47 435.2,506.7 C437.18,505.93 438.53,505.15 439.9,503.2 C441.27,501.25 442.23,497.53 443.4,495 C444.57,492.47 445.73,490.33 446.9,488 C448.07,485.67 449.23,483.03 450.4,481 C451.57,478.97 452.73,476.97 453.9,475.8 C455.07,474.63 456.23,474 457.4,474 C458.57,474 459.7,474.72 460.9,475.8 C462.1,476.88 463.45,478.35 464.6,480.5 C465.75,482.65 467,485.73 467.8,488.7 C468.6,491.67 468.75,494.85 469.4,498.3 C470.05,501.75 470.65,506.75 471.7,509.4 C472.75,512.05 474.32,512.43 475.7,514.2 C477.08,515.97 478.7,519.22 480,520 C481.3,520.78 481.95,517.53 483.5,518.9 C485.05,520.27 487.55,527.43 489.3,528.2 C491.05,528.97 492.23,524.08 494,523.5 C495.77,522.92 498.15,524.3 499.9,524.7 C501.65,525.1 503.15,527.27 504.5,525.9 C505.85,524.53 507.02,518.83 508,516.5 C508.98,514.17 509.42,512.08 510.4,511.9 C511.38,511.72 512.83,517.15 513.9,515.4 C514.97,513.65 515.93,503.55 516.8,501.4 C517.67,499.25 518.23,500.17 519.1,502.5 C519.97,504.83 520.73,512.48 522,515.4 C523.27,518.32 525.13,520.2 526.7,520 C528.27,519.8 530.03,513.62 531.4,514.2 C532.77,514.78 533.93,520.77 534.9,523.5 C535.87,526.23 536.23,530.6 537.2,530.6 C538.17,530.6 539.43,526.62 540.7,523.5 C541.97,520.38 543.63,511.7 544.8,511.9 C545.97,512.1 546.93,520.18 547.7,524.7 C548.47,529.22 548.73,537.97 549.4,539 C550.07,540.03 550.92,537.43 551.7,530.9 C552.48,524.37 553.37,506.87 554.1,499.8 C554.83,492.73 555.3,488.5 556.1,488.5 C556.9,488.5 557.83,493.13 558.9,499.8 C559.97,506.47 561.3,521.72 562.5,528.5 C563.7,535.28 564.9,540.5 566.1,540.5 C567.3,540.5 568.5,533.48 569.7,528.5 C570.9,523.52 572.1,512.58 573.3,510.6 C574.5,508.62 575.7,512.42 576.9,516.6 C578.1,520.78 579.52,532.12 580.5,535.7 C581.48,539.28 582.02,539.7 582.8,538.1 C583.58,536.5 584.4,532.48 585.2,526.1 C586,519.72 586.6,507.77 587.6,499.8 C588.6,491.83 590,482.28 591.2,478.3 C592.4,474.32 593.6,475.1 594.8,475.9 C596,476.7 597.2,483.1 598.4,483.1 C599.6,483.1 600.8,475.12 602,475.9 C603.2,476.68 604.6,483.78 605.6,487.8 C606.6,491.82 607.1,495.47 608,500 C608.9,504.53 609.95,511.83 611,515 C612.05,518.17 613.18,519.1 614.3,519 C615.42,518.9 616.17,515.95 617.7,514.4 C619.23,512.85 622.53,510.48 623.5,509.7" fill="none" stroke="#B340FF" stroke-width="2.6" stroke-linejoin="round"/>
<path d="M390.4,491 L390.4,509.3 L396,508.2 L402.5,506.7 L408.4,506.1 L413.5,507.5 L414.5,508 L414.7,501.1 L415.1,516.4 L415.3,508 L417.4,508 L417.6,500.4 L418,514.2 L418.2,508 L420.4,508 L420.6,498.2 L421,518.6 L421.2,508 L422.8,508 L423,498.9 L423.4,520.8 L423.6,508 L425.2,508 L425.4,498.2 L425.8,520.1 L426,508 L427.2,508 L427.4,499.6 L427.8,518.6 L428,508 L429.1,508 L429.3,502.6 L429.7,516.4 L429.9,508 L432,508 L432.2,504.7 L432.6,514.2 L432.8,508 L433.9,508 L434.1,506.2 L434.5,512.8 L434.7,508 L436,506.5" fill="none" stroke="#00AA00" stroke-width="2.3" stroke-linejoin="round"/>
<path d="M390.4,491 L390.4,509.3" fill="none" stroke="#D95319" stroke-width="2.6" stroke-linejoin="round" stroke-dasharray="2 2"/>
<path d="M390.4,508.5 C391.45,508.4 394.68,508.2 396.7,507.9 C398.72,507.6 400.55,507 402.5,506.7 C404.45,506.4 406.65,506.1 408.4,506.1 C410.15,506.1 411.07,506.47 413,506.7 C414.93,506.93 417.5,507.32 420,507.5 C422.5,507.68 425.47,507.93 428,507.8 C430.53,507.67 433.22,507.47 435.2,506.7 C437.18,505.93 438.53,505.15 439.9,503.2 C441.27,501.25 442.23,497.53 443.4,495 C444.57,492.47 445.73,490.33 446.9,488 C448.07,485.67 449.23,483.03 450.4,481 C451.57,478.97 452.73,476.97 453.9,475.8 C455.07,474.63 456.23,474 457.4,474 C458.57,474 459.7,474.72 460.9,475.8 C462.1,476.88 463.45,476.48 464.6,480.5 C465.75,484.52 466.48,494.82 467.8,499.9 C469.12,504.98 471.13,508.32 472.5,511 C473.87,513.68 474.75,514.88 476,516 C477.25,517.12 478.55,517.62 480,517.7 C481.45,517.78 483.63,516.8 484.7,516.5 C485.77,516.2 486.02,515.32 486.4,515.9 C486.78,516.48 487.1,517.95 487,520 C486.9,522.05 485.6,527.62 485.8,528.2 C486,528.78 487.22,523.88 488.2,523.5 C489.18,523.12 490.53,524.92 491.7,525.9 C492.87,526.88 494.23,530.38 495.2,529.4 C496.17,528.42 496.72,521.75 497.5,520 C498.28,518.25 499.32,517.73 499.9,518.9 C500.48,520.07 500.42,526.42 501,527 C501.58,527.58 502.62,523.57 503.4,522.4 C504.18,521.23 504.73,521.17 505.7,520 C506.67,518.83 507.83,516.85 509.2,515.4 C510.57,513.95 512.35,512.18 513.9,511.3 C515.45,510.42 517.15,509.82 518.5,510.1 C519.85,510.38 520.63,511.83 522,513 C523.37,514.17 525.13,515.73 526.7,517.1 C528.27,518.47 530.03,519.93 531.4,521.2 C532.77,522.47 533.73,524.32 534.9,524.7 C536.07,525.08 537.43,523.12 538.4,523.5 C539.37,523.88 539.92,527.58 540.7,527 C541.48,526.42 542.32,521.75 543.1,520 C543.88,518.25 544.72,517.47 545.4,516.5 C546.08,515.53 546.82,511.08 547.2,514.2 C547.58,517.32 546.83,531.7 547.7,535.2 C548.57,538.7 550.35,535.38 552.4,535.2 C554.45,535.02 557.57,534.75 560,534.1 C562.43,533.45 565.13,532.18 567,531.3 C568.87,530.42 569.8,529.75 571.2,528.8 C572.6,527.85 574.02,526.47 575.4,525.6 C576.78,524.73 578.3,524.45 579.5,523.6 C580.7,522.75 581.57,522.07 582.6,520.5 C583.63,518.93 584.65,516.45 585.7,514.2 C586.75,511.95 587.85,509.42 588.9,507 C589.95,504.58 590.97,502.13 592,499.7 C593.03,497.27 593.9,494.3 595.1,492.4 C596.3,490.5 597.88,489.53 599.2,488.3 C600.52,487.07 602.37,485.55 603,485" fill="none" stroke="#D95319" stroke-width="2.6" stroke-linejoin="round" stroke-dasharray="2 2"/>
<path d="M397.3,503.8 L397.3,511.4" fill="none" stroke="#D95319" stroke-width="2.6" stroke-linejoin="round" stroke-dasharray="2 2"/>
<path d="M417.7,502 L417.7,513.2" fill="none" stroke="#D95319" stroke-width="2.6" stroke-linejoin="round" stroke-dasharray="2 2"/>
<path d="M485.8,512 L485.8,530" fill="none" stroke="#D95319" stroke-width="2.6" stroke-linejoin="round" stroke-dasharray="2 2"/>
<path d="M576.8,454 L576.4,525" fill="none" stroke="#D95319" stroke-width="3.2" stroke-linejoin="round" stroke-dasharray="2.5 1.5" stroke-dashoffset="0"/>
<path d="M581.2,454 L580.6,523.5" fill="none" stroke="#D95319" stroke-width="3.2" stroke-linejoin="round" stroke-dasharray="2.5 1.5" stroke-dashoffset="2"/>
<path d="M587.2,454 L585.5,511" fill="none" stroke="#D95319" stroke-width="3.2" stroke-linejoin="round" stroke-dasharray="2.5 1.5" stroke-dashoffset="0"/>
<path d="M592.7,454 L591,498" fill="none" stroke="#D95319" stroke-width="3.2" stroke-linejoin="round" stroke-dasharray="2.5 1.5" stroke-dashoffset="2"/>
<path d="M597.8,454 L595.5,490" fill="none" stroke="#D95319" stroke-width="3.2" stroke-linejoin="round" stroke-dasharray="2.5 1.5" stroke-dashoffset="0"/>
<path d="M603.1,454 L602,493" fill="none" stroke="#D95319" stroke-width="3.2" stroke-linejoin="round" stroke-dasharray="2.5 1.5" stroke-dashoffset="2"/>
<path d="M606.3,454 L614,454 L613.6,555 L612,584.5 L606.8,584.5 L606.5,555 Z" fill="#D95319" stroke="#D95319" stroke-width="0.5" stroke-linejoin="round"/>
<circle cx="83.6" cy="160.2" r="5.05" fill="none" stroke="#77AC30" stroke-width="4.9"/>
<circle cx="390.4" cy="154.6" r="5.05" fill="none" stroke="#77AC30" stroke-width="4.9"/>
<path d="M313,60.9 L320.6,68.5 M313,68.5 L320.6,60.9" stroke="#FF0000" stroke-width="4.3" fill="none"/>
<path d="M313,103.7 L320.6,111.3 M313,111.3 L320.6,103.7" stroke="#FF00FF" stroke-width="4.3" fill="none"/>
<path d="M619.8,96.8 L627.4,104.4 M619.8,104.4 L627.4,96.8" stroke="#FF0000" stroke-width="4.3" fill="none"/>
<path d="M619.8,125.5 L627.4,133.1 M619.8,133.1 L627.4,125.5" stroke="#FF00FF" stroke-width="4.3" fill="none"/>
<path d="M312.8,313 L320.4,320.6 M312.8,320.6 L320.4,313" stroke="#FF0000" stroke-width="4.3" fill="none"/>
<path d="M619.9,312 L627.5,319.6 M619.9,319.6 L627.5,312" stroke="#FF0000" stroke-width="4.3" fill="none"/>
<path d="M312.8,481.7 L320.4,489.3 M312.8,489.3 L320.4,481.7" stroke="#FF0000" stroke-width="4.3" fill="none"/>
<path d="M620.7,505 L628.3,512.6 M620.7,512.6 L628.3,505" stroke="#FF0000" stroke-width="4.3" fill="none"/>
<text x="180.8" y="44.2" class="lb" textLength="44.2" lengthAdjust="spacingAndGlyphs"><tspan font-style="italic">x</tspan>  axis</text>
<text x="497.4" y="40.9" class="lb" textLength="42.8" lengthAdjust="spacingAndGlyphs"><tspan font-style="italic">z</tspan>  axis</text>
<text x="172.2" y="622.2" class="lb" textLength="55.6" lengthAdjust="spacingAndGlyphs">time [<tspan font-style="italic">s</tspan>]</text>
<text x="479.2" y="622.2" class="lb" textLength="55.4" lengthAdjust="spacingAndGlyphs">time [<tspan font-style="italic">s</tspan>]</text>
<line x1="0" y1="11.4" x2="32" y2="11.4" stroke="#0000FF" stroke-width="2.6" stroke-dasharray="2.2 1.8"/>
<text x="35.3" y="16.2" style="font-family:'Liberation Serif',serif;font-size:18px;font-style:italic;fill:#000" textLength="49" lengthAdjust="spacingAndGlyphs">DMP</text>
<line x1="89.8" y1="11.4" x2="121.1" y2="11.4" stroke="#B340FF" stroke-width="2.6"/>
<text x="123.9" y="16.2" style="font-family:'Liberation Serif',serif;font-size:18px;font-style:italic;fill:#000" textLength="50" lengthAdjust="spacingAndGlyphs">DMP</text>
<line x1="124.4" y1="1.6" x2="173.7" y2="1.6" stroke="#000" stroke-width="0.9"/>
<text x="174.8" y="7.9" style="font-family:'Liberation Serif',serif;font-size:12px;font-style:normal;fill:#000">*</text>
<line x1="187.3" y1="11.4" x2="218.6" y2="11.4" stroke="#00AA00" stroke-width="2.6"/>
<line x1="434.5" y1="11.4" x2="465" y2="11.4" stroke="#D95319" stroke-width="2.6" stroke-dasharray="2.2 1.8"/>
<text x="221.9" y="16.2" style="font-family:'Liberation Serif',serif;font-size:18px;font-style:italic;fill:#000" textLength="49" lengthAdjust="spacingAndGlyphs">DMP</text>
<line x1="276.2" y1="11.3" x2="287.4" y2="11.3" stroke="#000" stroke-width="0.9"/>
<text x="293.4" y="16.2" style="font-family:'Liberation Serif',serif;font-size:18px;font-style:italic;fill:#000" textLength="49.5" lengthAdjust="spacingAndGlyphs">MPC</text>
<text x="343.0" y="16.2" style="font-family:'Liberation Serif',serif;font-size:18px;font-style:normal;fill:#000">,</text>
<text x="349.1" y="16.2" style="font-family:'Liberation Serif',serif;font-size:18px;font-style:normal;fill:#000" textLength="12.6" lengthAdjust="spacingAndGlyphs">Δ</text>
<text x="363.0" y="16.2" style="font-family:'Liberation Serif',serif;font-size:18px;font-style:italic;fill:#000">t</text>
<text x="377.20000000000005" y="16.2" style="font-family:'Liberation Serif',serif;font-size:18px;font-style:normal;fill:#000" textLength="3.0" lengthAdjust="spacingAndGlyphs">:</text>
<text x="384.20000000000005" y="16.2" style="font-family:'Liberation Serif',serif;font-size:18px;font-style:normal;fill:#000" textLength="18.9" lengthAdjust="spacingAndGlyphs">10</text>
<text x="403.4" y="16.2" style="font-family:'Liberation Serif',serif;font-size:18px;font-style:italic;fill:#000" textLength="24.2" lengthAdjust="spacingAndGlyphs">ms</text>
<text x="468.9" y="16.2" style="font-family:'Liberation Serif',serif;font-size:18px;font-style:italic;fill:#000" textLength="49" lengthAdjust="spacingAndGlyphs">DMP</text>
<line x1="523.1999999999999" y1="11.3" x2="534.4" y2="11.3" stroke="#000" stroke-width="0.9"/>
<text x="540.4" y="16.2" style="font-family:'Liberation Serif',serif;font-size:18px;font-style:italic;fill:#000" textLength="49.5" lengthAdjust="spacingAndGlyphs">MPC</text>
<text x="590.0" y="16.2" style="font-family:'Liberation Serif',serif;font-size:18px;font-style:normal;fill:#000">,</text>
<text x="596.1" y="16.2" style="font-family:'Liberation Serif',serif;font-size:18px;font-style:normal;fill:#000" textLength="12.6" lengthAdjust="spacingAndGlyphs">Δ</text>
<text x="610.0" y="16.2" style="font-family:'Liberation Serif',serif;font-size:18px;font-style:italic;fill:#000">t</text>
<text x="624.2" y="16.2" style="font-family:'Liberation Serif',serif;font-size:18px;font-style:normal;fill:#000" textLength="3.0" lengthAdjust="spacingAndGlyphs">:</text>
<text x="631.2" y="16.2" style="font-family:'Liberation Serif',serif;font-size:18px;font-style:normal;fill:#000" textLength="29.4" lengthAdjust="spacingAndGlyphs">100</text>
<text x="660.9" y="16.2" style="font-family:'Liberation Serif',serif;font-size:18px;font-style:italic;fill:#000" textLength="24.2" lengthAdjust="spacingAndGlyphs">ms</text>
</svg>
</body></html>
